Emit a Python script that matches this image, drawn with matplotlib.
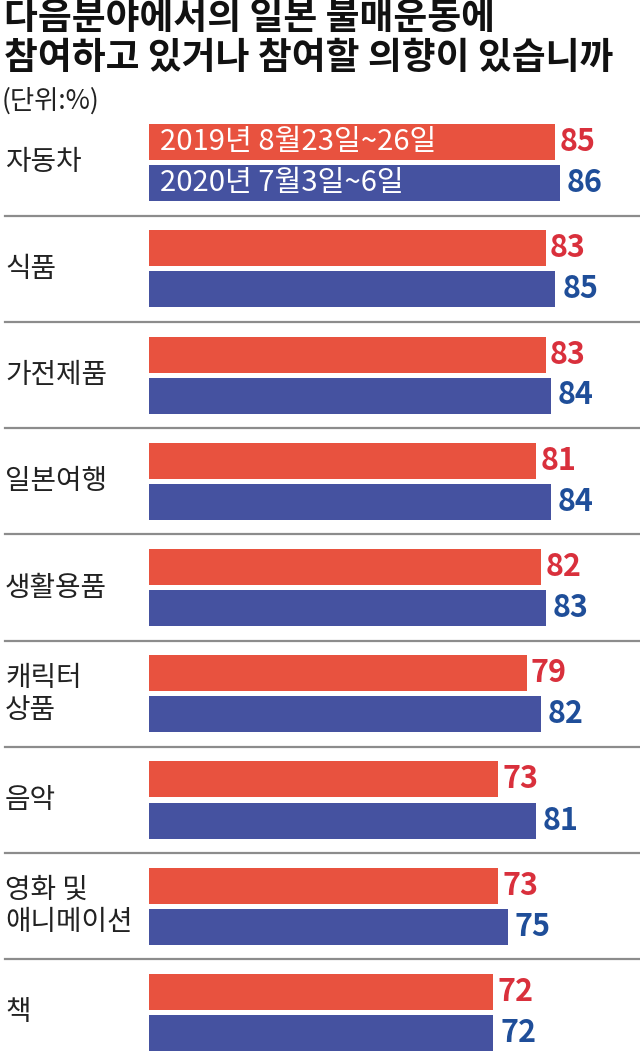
import matplotlib
matplotlib.use("Agg")
import matplotlib.pyplot as plt

plt.rcParams['font.family'] = ['Noto Sans CJK KR', 'DejaVu Sans']

# data
categories = ["자동차", "식품", "가전제품", "일본여행", "생활용품",
              "캐릭터\n상품", "음악", "영화 및\n애니메이션", "책"]
vals_2019 = [85, 83, 83, 81, 82, 79, 73, 73, 72]
vals_2020 = [86, 85, 84, 84, 83, 82, 81, 75, 72]
series_names = ["2019년 8월23일~26일", "2020년 7월3일~6일"]

title = "다음분야에서의 일본 불매운동에\n참여하고 있거나 참여할 의향이 있습니까"
unit = "(단위:%)"

bar_red = "#e8523f"
bar_blue = "#4552a0"
txt_red = "#d9303c"
txt_blue = "#1f4e99"

W, H = 640, 1051
fig = plt.figure(figsize=(W / 100, H / 100), dpi=100)

# bar axes in pixel geometry: left 149, top 109, bottom 1051
px_unit = 4.78
ax_left, ax_top = 149, 109
ax = fig.add_axes([ax_left / W, 0, (W - ax_left) / W, (H - ax_top) / H])
group_px = 106.25
first_center = 162.5
ax.set_xlim(0, (W - ax_left) / px_unit)
ax.set_ylim((H - first_center) / group_px, (ax_top - first_center) / group_px)
ax.axis("off")

off = 20.5 / group_px
bh = 36 / group_px
ys = list(range(len(categories)))
ax.barh([y - off for y in ys], vals_2019, height=bh, color=bar_red, left=0)
ax.barh([y + off for y in ys], vals_2020, height=bh, color=bar_blue, left=0)

for y, v in zip(ys, vals_2019):
    ax.annotate(str(v), (v, y - off), xytext=(3, 0), textcoords="offset points",
                ha="left", va="center", fontsize=22, fontweight="bold", color=txt_red)
for y, v in zip(ys, vals_2020):
    ax.annotate(str(v), (v, y + off), xytext=(5, 0), textcoords="offset points",
                ha="left", va="center", fontsize=22, fontweight="bold", color=txt_blue)

# legend text inside first bars
ax.text(2.2, 0 - off, series_names[0], ha="left", va="center", fontsize=21, color="white")
ax.text(2.2, 0 + off, series_names[1], ha="left", va="center", fontsize=21, color="white")

# category labels
lab_x = (5 - ax_left) / px_unit
for y, c in zip(ys, categories):
    ax.text(lab_x, y, c, ha="left", va="center", fontsize=20, color="#222222",
            linespacing=1.1, clip_on=False)

# separators
xmin = (5 - ax_left) / (W - ax_left)
for y in ys[:-1]:
    ax.axhline(y + 0.5, xmin=xmin, xmax=1, color="#8c8c8c", lw=1.6, clip_on=False)

fig.text(4 / W, 1 - 0 / H, title, ha="left", va="top", fontsize=26.5, fontweight="bold",
         color="#111111", linespacing=1.12)
fig.text(2 / W, 1 - 87 / H, unit, ha="left", va="top", fontsize=19, color="#222222")

fig.savefig("out.png", dpi=100)
